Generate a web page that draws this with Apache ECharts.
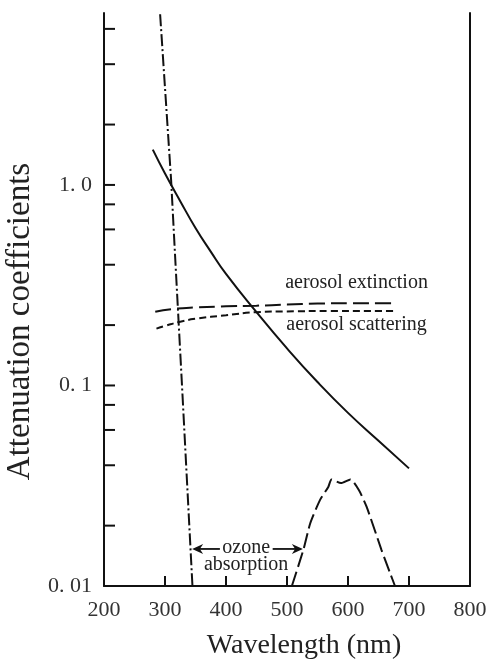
<!DOCTYPE html>
<html>
<head>
<meta charset="utf-8">
<script src="https://cdn.jsdelivr.net/npm/echarts@6/dist/echarts.min.js"></script>
<style>
  html, body { margin: 0; padding: 0; background: #fff; }
  #chart { width: 486px; height: 662px; }
</style>
</head>
<body>
<div id="chart"></div>
<script>
// Wavelength (nm) and attenuation coefficient pairs for each curve
const rayleigh = [[280, 1.5], [300, 1.14], [325, 0.83], [350, 0.61], [375, 0.465], [400, 0.36],
                  [450, 0.232], [500, 0.153], [550, 0.104], [600, 0.073], [650, 0.053], [700, 0.0386]];
const aerosolExtinction = [[284, 0.233], [310, 0.24], [350, 0.245], [400, 0.248], [450, 0.25],
                           [500, 0.253], [550, 0.256], [600, 0.257], [680, 0.257]];
const aerosolScattering = [[286, 0.192], [300, 0.198], [325, 0.208], [350, 0.215], [400, 0.224],
                           [450, 0.232], [500, 0.234], [570, 0.235], [680, 0.235]];
const ozoneHartley = [[292, 7.1], [310, 1.06], [316, 0.475], [327.5, 0.105], [345, 0.01]];
const ozoneChappuis = [[508, 0.01], [527, 0.0152], [538, 0.0205], [554, 0.0268], [567.7, 0.0312],
                       [573, 0.034], [588.5, 0.0326], [604, 0.034], [618, 0.030], [630.6, 0.0248],
                       [655, 0.0151], [669, 0.0116], [677, 0.01]];

// Axis ticks and labels
const xTicks = [200, 300, 400, 500, 600, 700, 800];
const yTickValues = [0.02, 0.04, 0.06, 0.08, 0.1, 0.2, 0.4, 0.6, 0.8, 1, 2, 4, 6];
const yLabelValues = [0.01, 0.1, 1];
const yLabelTexts = ['0. 01', '0. 1', '1. 0'];

const SERIF = '"Liberation Serif", "Times New Roman", serif';
const INK = '#111';

const chart = echarts.init(document.getElementById('chart'), null, { renderer: 'canvas' });

function lineSeries(data, dash, smooth) {
  return {
    type: 'line', data: data, showSymbol: false, smooth: smooth,
    animation: false, lineStyle: { color: INK, width: 2, type: dash }, silent: true, z: 3
  };
}

const option = {
  backgroundColor: '#fff',
  animation: false,
  grid: { left: 104, right: 16, top: 13, bottom: 76, containLabel: false, outerBoundsMode: 'none' },
  xAxis: {
    type: 'value', min: xTicks[0], max: xTicks[xTicks.length - 1], interval: 100,
    name: 'Wavelength (nm)', nameLocation: 'middle', nameGap: 46,
    nameTextStyle: { fontFamily: SERIF, fontSize: 28, color: '#222', padding: [0, 0, 0, 34] },
    axisLine: { lineStyle: { color: INK, width: 2 } },
    axisTick: { inside: true, length: 10, lineStyle: { color: INK, width: 2 } },
    axisLabel: { fontFamily: SERIF, fontSize: 22, color: '#333', margin: 13 },
    splitLine: { show: false }
  },
  yAxis: [{
    type: 'log', min: 0.01, max: 7.2, logBase: 10,
    name: 'Attenuation coefficients', nameLocation: 'middle', nameGap: 66, nameRotate: 90,
    nameTextStyle: { fontFamily: SERIF, fontSize: 33, color: '#222', padding: [0, 44, 0, 0] },
    axisLine: { show: true, lineStyle: { color: INK, width: 2 } },
    axisTick: { show: false },
    axisLabel: {
      fontFamily: SERIF, fontSize: 22, color: '#333', margin: 12,
      formatter: function (v) {
        for (let i = 0; i < yLabelValues.length; i++) {
          if (Math.abs(Math.log10(v) - Math.log10(yLabelValues[i])) < 1e-6) return yLabelTexts[i];
        }
        return '';
      }
    },
    splitLine: { show: false }
  }, {
    type: 'log', min: 0.01, max: 7.2, position: 'right',
    axisLine: { show: true, lineStyle: { color: INK, width: 2 } },
    axisTick: { show: false }, axisLabel: { show: false }, splitLine: { show: false }
  }],
  series: [
    lineSeries(rayleigh, 'solid', true),
    lineSeries(aerosolExtinction, [16, 6], true),
    lineSeries(aerosolScattering, [7, 4], true),
    lineSeries(ozoneHartley, [12, 3, 2, 3], false),
    lineSeries(ozoneChappuis, [15, 5], 0.2),
    {
      // inward minor/major ticks on the logarithmic axis
      type: 'custom', silent: true, animation: false, z: 4,
      data: yTickValues.map(v => [xTicks[0], v]),
      encode: { x: 0, y: 1 },
      renderItem: function (params, api) {
        const p = api.coord([api.value(0), api.value(1)]);
        return {
          type: 'line',
          shape: { x1: p[0], y1: p[1], x2: p[0] + 11, y2: p[1] },
          style: { stroke: INK, lineWidth: 2 }
        };
      }
    }
  ]
};
chart.setOption(option);

// Annotations placed in data coordinates
function px(nm, val) { return chart.convertToPixel({ xAxisIndex: 0, yAxisIndex: 0 }, [nm, val]); }

function label(text, nm, val) {
  const p = px(nm, val);
  return {
    type: 'text', x: p[0], y: p[1], z: 10, silent: true,
    style: { text: text, font: '20px ' + SERIF, fill: '#222', align: 'center', verticalAlign: 'middle' }
  };
}

function arrow(nmFrom, nmTip, val) {
  const a = px(nmFrom, val), b = px(nmTip, val);
  const dir = b[0] > a[0] ? 1 : -1;
  const head = 11, half = 5;
  return [{
    type: 'line', z: 10, silent: true,
    shape: { x1: a[0], y1: a[1], x2: b[0] - dir * head * 0.6, y2: b[1] },
    style: { stroke: INK, lineWidth: 1.8 }
  }, {
    type: 'polygon', z: 10, silent: true,
    shape: { points: [[b[0], b[1]], [b[0] - dir * head, b[1] - half], [b[0] - dir * head * 0.7, b[1]], [b[0] - dir * head, b[1] + half]] },
    style: { fill: INK }
  }];
}

chart.setOption({
  graphic: [
    label('aerosol extinction', 614, 0.325),
    label('aerosol scattering', 614, 0.2),
    label('ozone', 433, 0.01556),
    label('absorption', 433, 0.01277)
  ].concat(arrow(390, 344.5, 0.0153), arrow(476.5, 526, 0.0153))
});
</script>
</body>
</html>
